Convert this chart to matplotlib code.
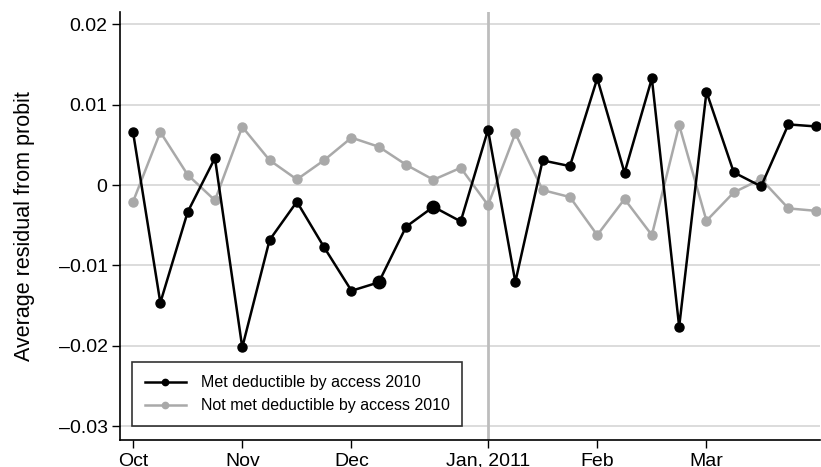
import matplotlib.pyplot as plt
from matplotlib.ticker import FuncFormatter

plt.rcParams['font.family'] = ['Liberation Sans', 'DejaVu Sans']

# weekly averages, week 0 = first week of October 2010
weeks = list(range(26))
met = [0.0066, -0.01464, -0.00336, 0.00336, -0.0202, -0.00684, -0.00207, -0.00775,
       -0.01315, -0.0121, -0.00518, -0.0027, -0.00452, 0.00688, -0.01206, 0.00307,
       0.00236, 0.01327, 0.00153, 0.01327, -0.01762, 0.0116, 0.00158, -0.00016,
       0.00755, 0.0073]
not_met = [-0.00207, 0.0066, 0.00128, -0.0019, 0.00725, 0.0031, 0.0007, 0.0031,
           0.0059, 0.00477, 0.00253, 0.00066, 0.00215, -0.00249, 0.00643, -0.00062,
           -0.00149, -0.00622, -0.00174, -0.00622, 0.00746, -0.00444, -0.00091,
           0.00075, -0.0029, -0.0032]
big_weeks = [9, 11]   # weeks drawn with heavier markers
month_weeks = [0, 4, 8, 13, 17, 21]
month_labels = ["Oct", "Nov", "Dec", "Jan, 2011", "Feb", "Mar"]
yticks = [0.02, 0.01, 0, -0.01, -0.02, -0.03]

fig = plt.figure(figsize=(8.21, 4.67), dpi=100)
ax = fig.add_axes([0.1462, 0.0578, 0.8530, 0.9162])

gray = "#a9a9a9"
for y in yticks:
    ax.axhline(y, color="#d6d6d6", lw=1.2, zorder=0)
ax.axvline(13, color="#bdbdbd", lw=2, zorder=1)

ax.plot(weeks, met, color="black", lw=1.8, marker="o", ms=6.5,
        label="Met deductible by access 2010", zorder=3)
ax.plot(weeks, not_met, color=gray, lw=1.8, marker="o", ms=6.5,
        label="Not met deductible by access 2010", zorder=2)
ax.plot([weeks[i] for i in big_weeks], [met[i] for i in big_weeks],
        ls="none", marker="o", ms=9, color="black", zorder=3)

ax.set_xlim(-0.476, 25.17)
ax.set_ylim(-0.03172, 0.02152)
ax.set_xticks(month_weeks)
ax.set_xticklabels(month_labels)
ax.set_yticks(yticks)
ax.yaxis.set_major_formatter(FuncFormatter(
    lambda v, p: "0" if abs(v) < 1e-12 else f"{v:.2f}".replace("-", "\u2013")))
ax.tick_params(axis="both", direction="out", length=6, width=1, labelsize=14,
               pad=3)
ax.set_ylabel("Average residual from probit", fontsize=15.5)
ax.yaxis.set_label_coords(-0.121, 0.5)

for s in ["top", "right"]:
    ax.spines[s].set_visible(False)
for s in ["left", "bottom"]:
    ax.spines[s].set_linewidth(1.2)

leg = ax.legend(loc="lower left", bbox_to_anchor=(0.017, 0.033), fontsize=11.5,
                frameon=True, fancybox=False, edgecolor="black", borderpad=0.8,
                borderaxespad=0, handlelength=2.6, handletextpad=0.9,
                labelspacing=0.5, markerscale=0.7)
leg.get_frame().set_linewidth(1.2)

fig.savefig("out.png", dpi=100)
